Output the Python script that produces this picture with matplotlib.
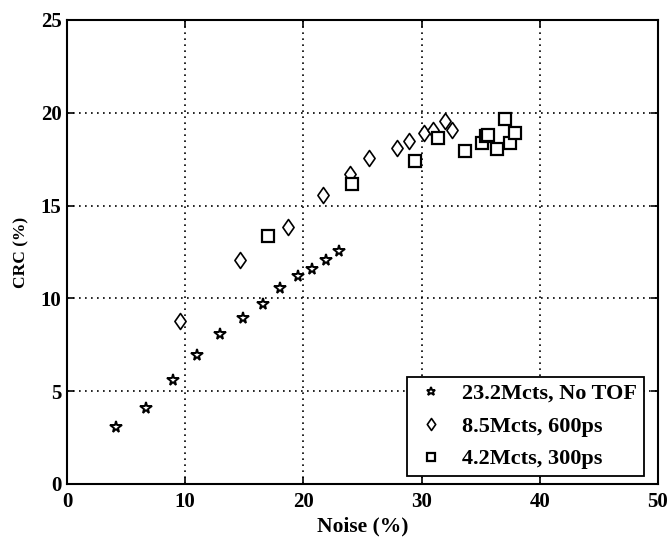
import numpy as np
import matplotlib.pyplot as plt
from matplotlib.path import Path

plt.rcParams["font.family"] = ["Liberation Serif", "DejaVu Serif"]
plt.rcParams["font.weight"] = "bold"

# 23.2Mcts, No TOF
noise_notof = [4.14, 6.68, 8.96, 10.99, 12.96, 14.93, 16.57, 18.06, 19.53, 20.76, 21.92, 23.02]
crc_notof = [3.05, 4.12, 5.59, 6.97, 8.06, 8.94, 9.72, 10.55, 11.2, 11.56, 12.08, 12.53]

# 8.5Mcts, 600ps
noise_600 = [9.58, 14.65, 18.68, 21.64, 23.95, 25.55, 27.95, 28.96, 30.23, 30.99, 31.98, 32.6]
crc_600 = [8.76, 12.08, 13.87, 15.56, 16.7, 17.56, 18.1, 18.49, 18.89, 19.09, 19.57, 19.09]

# 4.2Mcts, 300ps
noise_300 = [17.04, 24.14, 29.47, 31.41, 33.69, 35.1, 35.47, 35.64, 36.35, 37.02, 37.47, 37.92]
crc_300 = [13.37, 16.17, 17.38, 18.64, 17.92, 18.35, 18.75, 18.78, 18.05, 19.66, 18.35, 18.92]

# diamond a bit wider than matplotlib's thin diamond
diamond = Path([(0, 1), (0.7, 0), (0, -1), (-0.7, 0), (0, 1)],
               [Path.MOVETO, Path.LINETO, Path.LINETO, Path.LINETO, Path.CLOSEPOLY])

fig = plt.figure(figsize=(6.71, 5.37), dpi=100)
ax = fig.add_axes([0.0998, 0.0987, 0.8808, 0.8641])

ax.plot(noise_notof, crc_notof, linestyle="none", marker="*", markersize=8.5,
        markerfacecolor="white", markeredgecolor="black", markeredgewidth=1.4,
        label="23.2Mcts, No TOF")
ax.plot(noise_600, crc_600, linestyle="none", marker=diamond, markersize=11.5,
        markerfacecolor="white", markeredgecolor="black", markeredgewidth=1.2,
        label="8.5Mcts, 600ps")
ax.plot(noise_300, crc_300, linestyle="none", marker="s", markersize=8.5,
        markerfacecolor="white", markeredgecolor="black", markeredgewidth=1.6,
        label="4.2Mcts, 300ps")

ax.set_xlim(0, 50)
ax.set_ylim(0, 25)
ax.set_xticks(np.arange(0, 51, 10))
ax.set_yticks(np.arange(0, 26, 5))
ax.grid(True, linestyle=(0, (1, 2.6)), color="black", linewidth=1.2)
ax.tick_params(direction="in", length=5, width=1.2, labelsize=15,
               top=True, right=True)
ax.tick_params(axis="x", pad=6)
ax.tick_params(axis="y", pad=4)
for lab in ax.get_xticklabels() + ax.get_yticklabels():
    lab.set_fontweight("bold")
for s in ax.spines.values():
    s.set_linewidth(1.5)

ax.set_xlabel("Noise (%)", fontsize=15.5, fontweight="bold", labelpad=3)
ax.set_ylabel("CRC (%)", fontsize=12.5, fontweight="bold", labelpad=8)

leg = ax.legend(loc="lower right", bbox_to_anchor=(0.9763, 0.017), borderaxespad=0,
                frameon=True, fancybox=False, edgecolor="black",
                handlelength=1.6, handletextpad=0.6, borderpad=0.3,
                labelspacing=0.55, markerscale=0.75,
                prop={"weight": "bold", "size": 16})
leg.get_frame().set_linewidth(1.3)
leg.get_frame().set_alpha(1)

fig.savefig("out.png", dpi=100)
